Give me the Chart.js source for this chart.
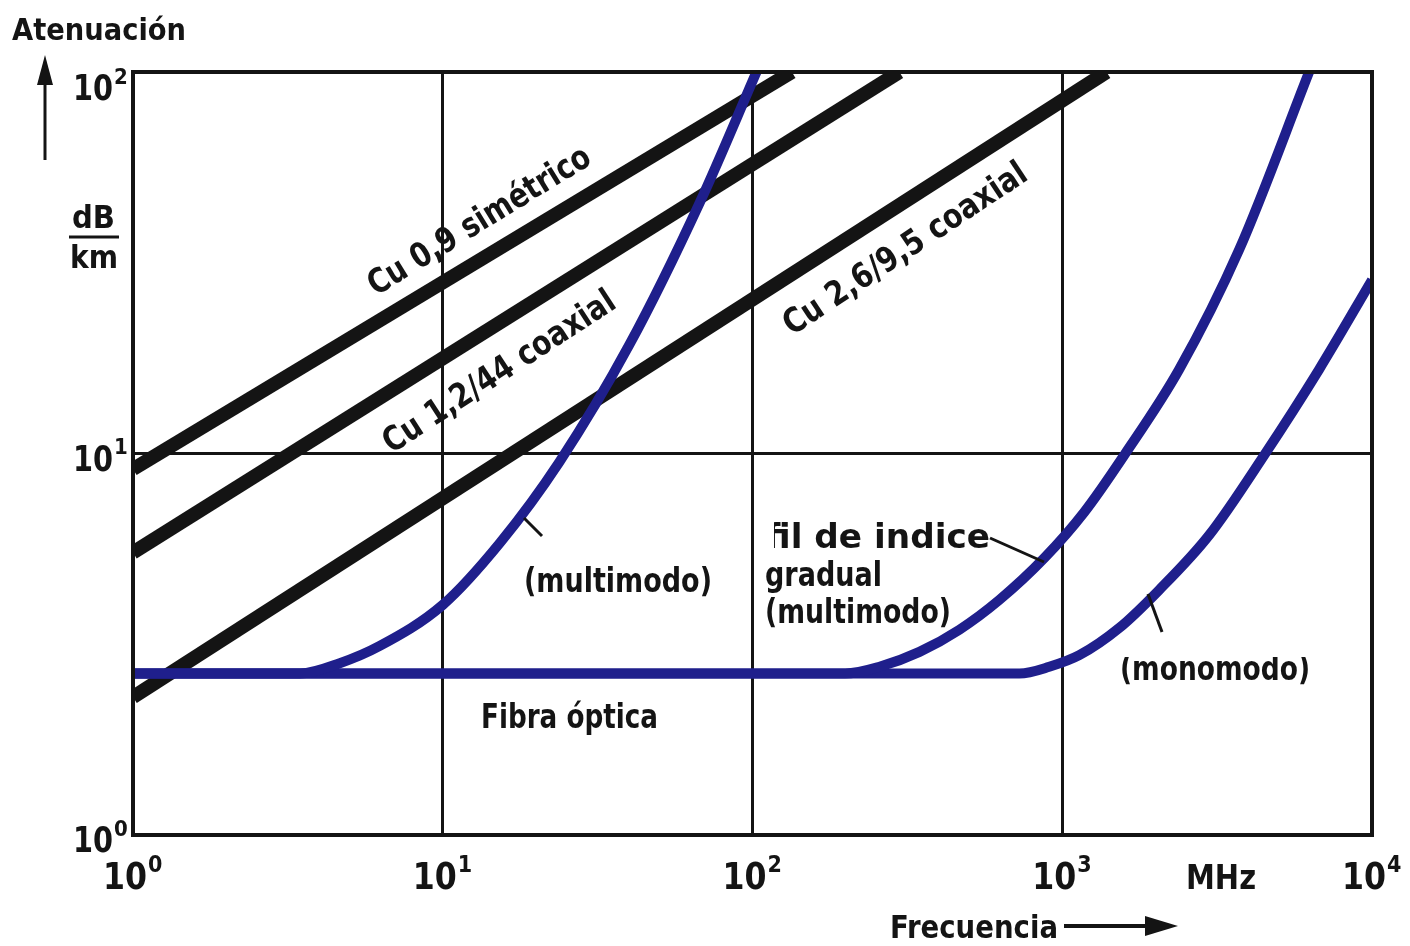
<!DOCTYPE html>
<html>
<head>
<meta charset="utf-8">
<script src="https://cdn.jsdelivr.net/npm/chart.js@4.4.0/dist/chart.umd.min.js"></script>
<style>
  html, body { margin: 0; padding: 0; background: #fff; }
  #wrap { width: 1410px; height: 946px; }
</style>
</head>
<body>
<div id="wrap"><canvas id="atenChart" width="1410" height="946"></canvas></div>
<script>
// axis ticks (powers of ten)
const xTickValues = [1, 10, 100, 1000, 10000];
const xTickExp = ['0', '1', '2', '3', '4'];
const yTickValues = [1, 10, 100];
const yTickExp = ['0', '1', '2'];

// copper cables, dB/km vs MHz (straight on log-log)
const cu09Freq = [1, 134];
const cu09Att = [9.1, 100];
const cu1244Freq = [1, 298];
const cu1244Att = [5.5, 100];
const cu2695Freq = [1, 1390];
const cu2695Att = [2.3, 100];

// optical fibres
const stepFreq = [1, 3.46, 4.65, 6.26, 10, 15.3, 23.8, 40, 67.5, 103];
const stepAtt = [2.65, 2.65, 2.82, 3.13, 4.01, 5.83, 9.5, 19.25, 45.4, 100];
const gradFreq = [1, 199, 257, 346, 465, 626, 875, 1178, 1585, 2384, 3724, 6266];
const gradAtt = [2.65, 2.65, 2.76, 3.02, 3.45, 4.13, 5.32, 7.02, 9.9, 16.6, 34.2, 100];
const monoFreq = [1, 727, 908, 1135, 1528, 2056, 2980, 4486, 6745, 10000];
const monoAtt = [2.65, 2.65, 2.76, 2.96, 3.49, 4.39, 6.11, 9.9, 16.6, 28.5];

const BLACK = '#141414';
const BLUE = '#1f1f8c';
const FONT = '"DejaVu Sans Condensed", "Liberation Sans Narrow", "DejaVu Sans", sans-serif';

function pts(fs, as) {
    return fs.map((f, i) => ({ x: f, y: as[i] }));
}

function fitText(ctx, text, x, y, width, size, align) {
    ctx.font = 'bold ' + size + 'px ' + FONT;
    const w = ctx.measureText(text).width;
    const k = width / w;
    ctx.save();
    ctx.translate(x, y);
    ctx.scale(k, 1);
    ctx.textAlign = align || 'left';
    ctx.fillText(text, 0, 0);
    ctx.restore();
}

function rotText(ctx, text, cx, cy, angle, width, size) {
    ctx.save();
    ctx.translate(cx, cy);
    ctx.rotate(angle * Math.PI / 180);
    ctx.textBaseline = 'middle';
    fitText(ctx, text, 0, 0, width, size, 'center');
    ctx.restore();
}

function power(ctx, x, y, exp, big, small, w) {
    fitText(ctx, '10', x, y, w, big, 'right');
    ctx.font = 'bold ' + small + 'px ' + FONT;
    ctx.textAlign = 'left';
    ctx.fillText(exp, x + 1, y - big * 0.45);
}

function line(ctx, x1, y1, x2, y2, w) {
    ctx.beginPath();
    ctx.lineWidth = w;
    ctx.moveTo(x1, y1);
    ctx.lineTo(x2, y2);
    ctx.stroke();
}

const decorPlugin = {
    id: 'decor',
    afterDatasetsDraw(chart) {
        const ctx = chart.ctx;
        const xs = chart.scales.x, ys = chart.scales.y;
        const a = chart.chartArea;
        ctx.save();
        ctx.strokeStyle = BLACK;
        ctx.fillStyle = BLACK;
        ctx.lineCap = 'butt';
        // frame
        ctx.lineWidth = 4;
        ctx.strokeRect(a.left, a.top, a.right - a.left, a.bottom - a.top);

        // tick labels
        ctx.textBaseline = 'alphabetic';
        xTickValues.forEach((v, i) => {
            const px = xs.getPixelForValue(v);
            power(ctx, px + 14, 889, xTickExp[i], 38, 23, 44);
        });
        yTickValues.forEach((v, i) => {
            const py = ys.getPixelForValue(v);
            power(ctx, 113, Math.max(py + 17, 100), yTickExp[i], 36, 22, 40);
        });
        fitText(ctx, 'MHz', 1186, 889, 70, 34);

        // axis titles
        fitText(ctx, 'Atenuación', 12, 40, 174, 30);
        fitText(ctx, 'dB', 72, 228, 43, 32);
        line(ctx, 69, 237, 119, 237, 3);
        fitText(ctx, 'km', 70, 268, 48, 32);
        line(ctx, 45, 160, 45, 80, 3);
        ctx.beginPath();
        ctx.moveTo(45, 55); ctx.lineTo(37, 85); ctx.lineTo(53, 85); ctx.closePath(); ctx.fill();

        fitText(ctx, 'Frecuencia', 890, 938, 168, 32);
        line(ctx, 1064, 926, 1150, 926, 4);
        ctx.beginPath();
        ctx.moveTo(1178, 926); ctx.lineTo(1145, 916); ctx.lineTo(1145, 936); ctx.closePath(); ctx.fill();

        // cable labels
        rotText(ctx, 'Cu 0,9 simétrico', 480, 222, -31.5, 255, 34);
        rotText(ctx, 'Cu 1,2/44 coaxial', 500, 373, -33, 270, 34);
        rotText(ctx, 'Cu 2,6/9,5 coaxial', 906, 250, -33.5, 285, 34);

        fitText(ctx, 'Fibra óptica', 481, 728, 177, 33);

        // step-index label (top half whited out in the original)
        ctx.save();
        ctx.beginPath();
        ctx.rect(500, 563, 260, 60);
        ctx.clip();
        fitText(ctx, '(multimodo)', 524, 592, 188, 34);
        ctx.restore();
        line(ctx, 524, 518, 542, 536, 3);

        // graded-index label
        ctx.save();
        ctx.beginPath();
        ctx.rect(774, 500, 260, 60);
        ctx.clip();
        fitText(ctx, 'Perfil de indice', 990, 548, 290, 33, 'right');
        ctx.restore();
        fitText(ctx, 'gradual', 765, 586, 117, 33);
        fitText(ctx, '(multimodo)', 765, 623, 186, 33);
        line(ctx, 990, 538, 1044, 562, 3);

        // single-mode label
        ctx.save();
        ctx.beginPath();
        ctx.rect(1100, 657, 240, 40);
        ctx.clip();
        fitText(ctx, '(monomodo)', 1120, 680, 190, 34);
        ctx.restore();
        line(ctx, 1148, 594, 1162, 632, 3);

        ctx.restore();
    }
};

const ctx = document.getElementById('atenChart').getContext('2d');
const atenChart = new Chart(ctx, {
    type: 'line',
    data: {
        datasets: [
            { label: 'Fibra índice escalonado', data: pts(stepFreq, stepAtt), borderColor: BLUE, borderWidth: 10, cubicInterpolationMode: 'monotone', order: 0 },
            { label: 'Fibra índice gradual', data: pts(gradFreq, gradAtt), borderColor: BLUE, borderWidth: 10, cubicInterpolationMode: 'monotone', order: 0 },
            { label: 'Fibra monomodo', data: pts(monoFreq, monoAtt), borderColor: BLUE, borderWidth: 10, cubicInterpolationMode: 'monotone', order: 0 },
            { label: 'Cu 0,9 simétrico', data: pts(cu09Freq, cu09Att), borderColor: BLACK, borderWidth: 14, order: 1 },
            { label: 'Cu 1,2/44 coaxial', data: pts(cu1244Freq, cu1244Att), borderColor: BLACK, borderWidth: 14, order: 1 },
            { label: 'Cu 2,6/9,5 coaxial', data: pts(cu2695Freq, cu2695Att), borderColor: BLACK, borderWidth: 14, order: 1 }
        ]
    },
    options: {
        responsive: false,
        animation: false,
        layout: { padding: { left: 133, right: 38, top: 72, bottom: 111 } },
        elements: {
            point: { radius: 0 },
            line: { fill: false, borderCapStyle: 'butt', borderJoinStyle: 'round', tension: 0 }
        },
        datasets: { line: { clip: 0 } },
        scales: {
            x: {
                type: 'logarithmic',
                min: 1, max: 10000,
                afterBuildTicks: s => { s.ticks = xTickValues.map(v => ({ value: v })); },
                ticks: { display: false },
                grid: { color: BLACK, lineWidth: 3, drawTicks: false },
                border: { display: false }
            },
            y: {
                type: 'logarithmic',
                min: 1, max: 100,
                afterBuildTicks: s => { s.ticks = yTickValues.map(v => ({ value: v })); },
                ticks: { display: false },
                grid: { color: BLACK, lineWidth: 3, drawTicks: false },
                border: { display: false }
            }
        },
        plugins: { legend: { display: false }, tooltip: { enabled: false } }
    },
    plugins: [decorPlugin]
});
</script>
</body>
</html>
